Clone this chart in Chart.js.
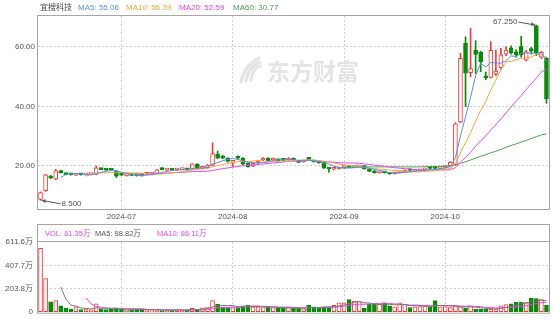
<!DOCTYPE html>
<html><head><meta charset="utf-8">
<script src="https://cdn.jsdelivr.net/npm/chart.js@4.4.0/dist/chart.umd.min.js"></script>
<style>
html,body{margin:0;padding:0;background:#fff;overflow:hidden}
#wrap{position:relative;width:554px;height:322px;background:#fff}
#c1{position:absolute;left:0;top:0}
#c2{position:absolute;left:0;top:222px}
</style></head>
<body><div id="wrap"><canvas id="c1" width="554" height="222"></canvas><canvas id="c2" width="554" height="100"></canvas></div>
<script>
const stockName = '宜搜科技';
const dates = [
'2024-06-06','2024-06-07','2024-06-11','2024-06-12','2024-06-13','2024-06-14','2024-06-17','2024-06-18','2024-06-19','2024-06-20','2024-06-21','2024-06-24','2024-06-25','2024-06-26','2024-06-27','2024-06-28',
'2024-07-02','2024-07-03','2024-07-04','2024-07-05','2024-07-08','2024-07-09','2024-07-10','2024-07-11','2024-07-12','2024-07-15','2024-07-16','2024-07-17','2024-07-18','2024-07-19','2024-07-22','2024-07-23','2024-07-24','2024-07-25','2024-07-26','2024-07-29','2024-07-30','2024-07-31',
'2024-08-01','2024-08-02','2024-08-05','2024-08-06','2024-08-07','2024-08-08','2024-08-09','2024-08-12','2024-08-13','2024-08-14','2024-08-15','2024-08-16','2024-08-19','2024-08-20','2024-08-21','2024-08-22','2024-08-23','2024-08-26','2024-08-27','2024-08-28','2024-08-29','2024-08-30',
'2024-09-02','2024-09-03','2024-09-04','2024-09-05','2024-09-06','2024-09-09','2024-09-10','2024-09-11','2024-09-12','2024-09-13','2024-09-16','2024-09-17','2024-09-19','2024-09-20','2024-09-23','2024-09-24','2024-09-25','2024-09-26','2024-09-27','2024-09-30',
'2024-10-02','2024-10-03','2024-10-04','2024-10-07','2024-10-08','2024-10-09','2024-10-10','2024-10-14','2024-10-15','2024-10-16','2024-10-17','2024-10-18','2024-10-21','2024-10-22','2024-10-23','2024-10-24','2024-10-25','2024-10-28','2024-10-29','2024-10-30','2024-10-31'];

const open = [8.8,11.7,16.4,15.6,18.0,17.4,17.2,16.9,17.2,17.0, 17.1,17.2,19.1,18.9,18.8,18.2,17.2,16.7,16.9,16.9, 16.9,17.2,17.3,17.5,19.0,18.6,18.7,18.6,18.8,18.8, 18.9,20.6,19.2,19.4,20.3,24.0,23.1,22.6,21.2,23.1, 22.6,20.9,20.0,21.0,22.0,22.6,22.0,22.2,22.1,22.0, 22.6,21.7,21.4,22.3,21.7,21.5,21.2,19.2,18.9,19.0, 19.5,19.7,19.5,19.7,20.1,19.0,18.4,17.7,17.9,17.6, 17.4,17.7,18.0,18.7,18.3,18.4,18.7,19.4,19.4,19.2, 19.5,20.0,20.5,34.8,61.1,51.3,58.9,58.1,50.1,49.7, 50.8,53.0,57.5,59.6,58.3,60.0,55.5,59.4,67.0,56.5, 56.1];
const high = [11.3,17.2,16.8,18.9,18.6,17.6,17.3,17.3,17.3,17.2, 17.3,20.0,19.3,19.0,18.9,18.4,17.3,17.0,17.0,17.0, 17.0,17.5,17.6,18.8,19.4,18.9,18.9,18.9,19.0,19.0, 20.8,20.8,19.5,20.5,27.8,25.0,23.6,22.8,21.8,23.4, 22.8,21.0,21.0,21.8,22.8,22.8,22.7,22.4,22.2,22.8, 22.7,21.8,21.8,22.5,21.8,21.6,21.3,19.4,19.2,19.4, 19.7,19.8,19.8,20.0,20.2,19.1,18.5,18.0,18.0,17.7, 17.8,18.1,18.7,18.8,18.6,18.7,19.0,19.5,19.6,19.5, 19.8,21.5,34.5,57.8,63.3,66.1,62.0,58.5,51.5,61.7, 58.9,59.5,60.0,60.3,59.0,63.5,58.8,59.8,67.25,58.5, 56.5];
const low = [8.5,11.5,15.7,15.4,17.6,17.0,16.9,16.8,16.9,16.9, 17.0,17.1,18.7,18.5,18.5,16.1,16.8,16.6,16.7,16.6, 16.6,17.1,17.2,17.4,18.7,18.5,18.5,18.5,18.7,18.6, 18.8,19.1,19.0,19.3,20.1,22.4,22.4,21.3,19.8,22.4, 20.4,19.6,19.8,20.8,21.8,21.6,21.9,21.6,21.8,21.9, 21.9,21.1,21.3,22.1,21.3,20.9,19.2,17.9,18.8,18.9, 19.3,19.4,19.4,19.6,18.9,18.1,17.6,17.6,17.6,17.2, 17.3,17.6,17.9,18.4,18.2,18.3,18.6,19.1,19.1,19.1, 19.4,19.8,20.3,34.5,39.9,49.9,51.0,51.6,48.9,49.5, 50.3,52.5,57.0,57.5,56.5,56.5,55.2,57.5,57.0,56.0, 41.0];
const close = [11.1,17.0,16.0,18.4,17.8,17.1,17.0,17.2,17.0,17.1, 17.2,19.4,18.8,18.6,18.6,16.6,16.9,16.9,16.8,16.8, 16.7,17.4,17.5,18.7,18.8,18.7,18.6,18.8,18.9,18.7, 20.7,19.2,19.3,20.3,24.2,22.6,22.6,21.5,21.6,22.6, 20.6,19.8,20.9,21.6,22.6,21.8,22.5,21.7,21.9,22.6, 22.0,21.2,21.7,22.2,21.4,21.0,19.3,19.0,19.1,19.3, 19.6,19.5,19.7,19.9,19.0,18.2,17.7,17.9,17.7,17.3, 17.7,18.0,18.6,18.5,18.5,18.6,18.9,19.2,19.2,19.4, 19.7,21.3,34.1,56.1,51.1,52.7,57.4,55.0,49.6,58.8, 51.8,57.3,58.9,58.0,57.2,57.2,58.3,58.5,57.8,58.1, 42.6];
// volume in 万
const volume = [556,293,90,101,55,36,27,46,22,30, 20,74,27,22,27,30,27,19,22,27, 27,19,15,19,15,19,19,22,19,16, 33,27,38,41,101,68,41,41,41,41, 55,63,46,46,41,46,41,36,33,41, 36,33,30,60,46,41,46,44,60,82, 82,109,96,93,33,70,70,68,82,55, 46,82,68,41,46,50,55,44,101,46, 50,41,55,46,36,55,27,27,27,27, 30,55,66,72,85,89,82.75,123,118,109, 61.35];

const priceTicks = [20, 40, 60];
const volumeTicks = [0, 203.8, 407.7, 611.6];

const FONT = "'Liberation Sans', Arial, 'Noto Sans CJK SC', sans-serif";
const C = { up:'#ef3b3b', down:'#0c880c', ma5:'#5b8fe6', ma10:'#eea73a', ma20:'#ec45ec', ma60:'#4ea04e',
  vma5:'#7a7a7a', vma10:'#ec45ec', grid:'#d2d2d2', frame:'#a6a6a6', tick:'#555' };

function movingAverage(arr, n){
  return arr.map((_, i) => i < n - 1 ? null : arr.slice(i - n + 1, i + 1).reduce((a, b) => a + b, 0) / n);
}
const up = close.map((c, i) => c >= open[i]);
const ma5 = movingAverage(close, 5), ma10 = movingAverage(close, 10), ma20 = movingAverage(close, 20), ma60 = movingAverage(close, 60);
const vma5 = movingAverage(volume, 5), vma10 = movingAverage(volume, 10);
const last = a => a[a.length - 1];
const monthStarts = dates.map((d, i) => (i > 0 && d.slice(0, 7) !== dates[i - 1].slice(0, 7)) ? i : -1).filter(i => i >= 0);

function lineDs(data, color){
  return { type:'line', data, borderColor: color, borderWidth: 1, pointRadius: 0, tension: 0, order: 0 };
}
function xScale(showTicks){
  return {
    type:'category', offset:true,
    grid:{ display:true, offset:false, color:C.grid, drawTicks:false, lineWidth:1 },
    border:{ display:false, dash:[2,2] },
    ticks:{ display:showTicks, autoSkip:false, maxRotation:0, padding:3, color:C.tick, font:{ size:8, family:FONT },
      callback:(v) => dates[v].slice(0, 7) },
    afterBuildTicks: s => { s.ticks = s.ticks.filter(t => monthStarts.includes(t.value)); },
    afterFit: s => { s.height = showTicks ? 13 : 0; }
  };
}

const mainDeco = {
  id:'mainDeco',
  beforeDatasetsDraw(chart){
    const ctx = chart.ctx; ctx.save();
    ctx.fillStyle = '#e4e4e4';
    ctx.font = "bold 23px 'Noto Sans CJK SC', sans-serif";
    ctx.textBaseline = 'middle'; ctx.textAlign = 'left';
    ctx.fillText('东方财富', 267, 71);
    ctx.strokeStyle = '#e4e4e4'; ctx.lineWidth = 3.2; ctx.lineCap = 'round';
    for (let k = 0; k < 3; k++){
      ctx.beginPath();
      ctx.moveTo(241 + k * 5, 82 - k);
      ctx.quadraticCurveTo(244 + k * 5, 66, 259 + k, 58 + k * 4);
      ctx.stroke();
    }
    ctx.restore();
  },
  afterDatasetsDraw(chart){
    const ctx = chart.ctx, xs = chart.scales.x, ys = chart.scales.y;
    ctx.save();
    ctx.font = '8px ' + FONT; ctx.fillStyle = '#555'; ctx.strokeStyle = '#555'; ctx.lineWidth = 1;
    ctx.textBaseline = 'middle';
    const hi = high.indexOf(Math.max(...high));
    const hx = xs.getPixelForValue(hi), hy = ys.getPixelForValue(high[hi]);
    ctx.textAlign = 'right';
    const hEnd = hx - 19;
    ctx.fillText(high[hi].toFixed(3), hEnd, hy - 3);
    ctx.beginPath(); ctx.moveTo(hEnd + 1, hy - 3); ctx.lineTo(hx - 1, hy); ctx.stroke();
    ctx.beginPath(); ctx.moveTo(hx - 1, hy); ctx.lineTo(hx - 5, hy - 3); ctx.lineTo(hx - 5, hy + 1); ctx.closePath(); ctx.fill();
    const lo = low.indexOf(Math.min(...low));
    const lx = xs.getPixelForValue(lo), ly = ys.getPixelForValue(low[lo]);
    ctx.textAlign = 'left';
    const lStart = lx + 21;
    ctx.fillText(low[lo].toFixed(3), lStart, ly + 3.5);
    ctx.beginPath(); ctx.moveTo(lx + 1, ly); ctx.lineTo(lStart - 1, ly + 3.5); ctx.stroke();
    ctx.beginPath(); ctx.moveTo(lx + 1, ly); ctx.lineTo(lx + 5, ly - 1); ctx.lineTo(lx + 5, ly + 3); ctx.closePath(); ctx.fill();
    ctx.restore();
  },
  afterDraw(chart){
    const ctx = chart.ctx, a = chart.chartArea;
    ctx.save();
    ctx.strokeStyle = C.frame; ctx.lineWidth = 1;
    ctx.strokeRect(a.left - 0.5, a.top - 0.5, a.right - a.left + 1, a.bottom - a.top + 1);
    ctx.font = '8px ' + FONT; ctx.textBaseline = 'middle'; ctx.textAlign = 'left';
    const items = [
      [stockName, '#444', 40],
      ['MA5: ' + last(ma5).toFixed(2), C.ma5, 78],
      ['MA10: ' + last(ma10).toFixed(2), C.ma10, 126],
      ['MA20: ' + last(ma20).toFixed(2), C.ma20, 179],
      ['MA60: ' + last(ma60).toFixed(2), C.ma60, 233]
    ];
    items.forEach(([t, c, x]) => { ctx.fillStyle = c; ctx.fillText(t, x, 7.5); });
    ctx.restore();
  }
};

new Chart(document.getElementById('c1'), {
  type:'bar',
  data:{ labels: dates, datasets:[
    lineDs(ma5, C.ma5), lineDs(ma10, C.ma10), lineDs(ma20, C.ma20), lineDs(ma60, C.ma60),
    { type:'bar', data: open.map((o, i) => [o, close[i]]),
      backgroundColor: up.map(u => u ? '#ffffff' : C.down), borderColor: up.map(u => u ? C.up : C.down),
      borderWidth: 1, borderSkipped: false, barThickness: 4, minBarLength: 2, grouped: false, order: 1 },
    { type:'bar', data: low.map((l, i) => [l, high[i]]),
      backgroundColor: up.map(u => u ? C.up : C.down), borderWidth: 0, barThickness: 1, grouped: false, order: 2 }
  ]},
  options:{
    responsive:false, animation:false, devicePixelRatio:1,
    layout:{ padding:{ top:16, right:5, left:0, bottom:0 } },
    plugins:{ legend:{ display:false }, tooltip:{ enabled:false } },
    scales:{
      x: xScale(true),
      y: { type:'linear', position:'left', min:5.58, max:70.29,
        afterBuildTicks: s => { s.ticks = priceTicks.map(v => ({ value: v })); },
        ticks:{ padding:3, color:C.tick, font:{ size:8, family:FONT }, callback: v => Number(v).toFixed(2) },
        grid:{ color:C.grid, drawTicks:false },
        border:{ display:false, dash:[2,2] },
        afterFit: s => { s.width = 38; } }
    }
  },
  plugins:[mainDeco]
});

const volDeco = {
  id:'volDeco',
  afterDraw(chart){
    const ctx = chart.ctx, a = chart.chartArea;
    ctx.save();
    ctx.strokeStyle = C.frame; ctx.lineWidth = 1;
    ctx.strokeRect(a.left - 0.5, 2.5, a.right - a.left + 1, a.bottom + 1 - 2.5);
    ctx.beginPath(); ctx.moveTo(a.left, a.top - 0.5); ctx.lineTo(a.right, a.top - 0.5); ctx.stroke();
    ctx.font = '7.5px ' + FONT; ctx.textBaseline = 'middle'; ctx.textAlign = 'left';
    const items = [
      ['VOL: ' + last(volume).toFixed(2) + '万', C.vma10, 45],
      ['MA5: ' + last(vma5).toFixed(2) + '万', '#555', 95],
      ['MA10: ' + last(vma10).toFixed(2) + '万', C.vma10, 157]
    ];
    items.forEach(([t, c, x]) => { ctx.fillStyle = c; ctx.fillText(t, x, 12); });
    ctx.restore();
  }
};

new Chart(document.getElementById('c2'), {
  type:'bar',
  data:{ labels: dates, datasets:[
    { type:'line', data: vma5, borderColor: C.vma5, borderWidth: 1, pointRadius: 0, order: 0 },
    { type:'line', data: vma10, borderColor: C.vma10, borderWidth: 1, pointRadius: 0, order: 0 },
    { type:'bar', data: volume,
      backgroundColor: up.map(u => u ? '#ffffff' : C.down), borderColor: up.map(u => u ? C.up : C.down),
      borderWidth: 1, borderSkipped: false, barThickness: 4, order: 1 }
  ]},
  options:{
    responsive:false, animation:false, devicePixelRatio:1,
    layout:{ padding:{ top:20, right:5, left:0, bottom:5 } },
    plugins:{ legend:{ display:false }, tooltip:{ enabled:false } },
    scales:{
      x: xScale(false),
      y: { type:'linear', position:'left', min:0, max:611.6,
        afterBuildTicks: s => { s.ticks = volumeTicks.map(v => ({ value: v })); },
        ticks:{ padding:5, color:C.tick, font:{ size:8, family:FONT },
          callback: v => v === 0 ? '0' : Number(v).toFixed(1) + '万' },
        grid:{ drawTicks:false, color: c => (c.tick && (c.tick.value === 0 || c.tick.value === 611.6)) ? 'rgba(0,0,0,0)' : C.grid },
        border:{ display:false, dash:[2,2] },
        afterFit: s => { s.width = 38; } }
    }
  },
  plugins:[volDeco]
});
</script>
</body></html>
